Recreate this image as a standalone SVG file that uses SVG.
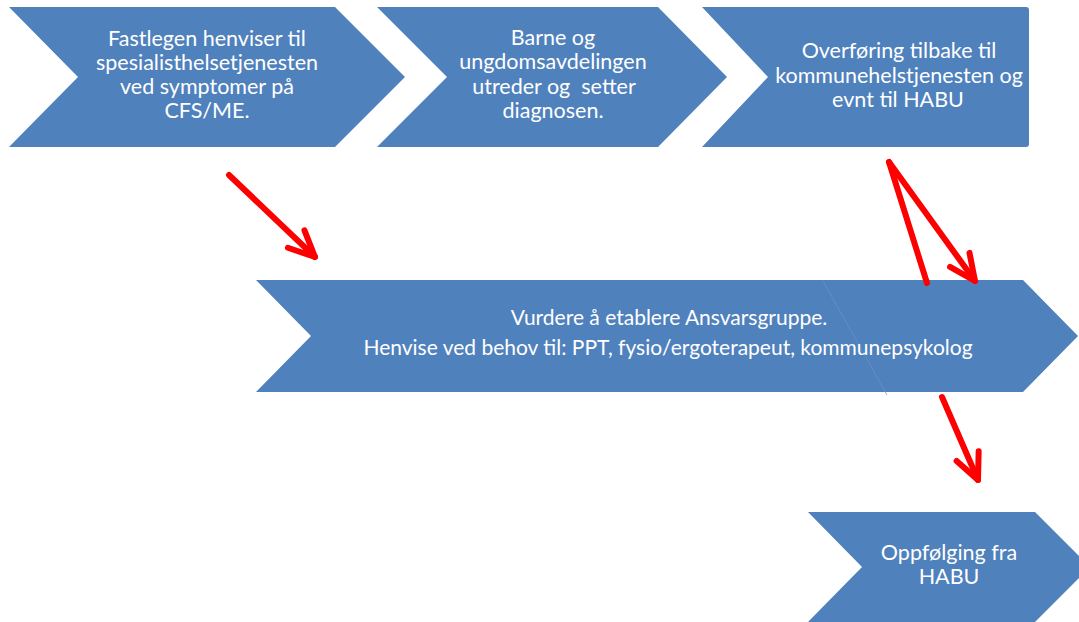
<svg xmlns="http://www.w3.org/2000/svg" width="1079" height="622" viewBox="0 0 1079 622">
<style>
.shape{fill:#4f81bd}
.t{font-family:Lato,"Liberation Sans",sans-serif;fill:#ffffff;text-anchor:middle}
.top{font-size:21.5px}
.mid{font-size:21px}
.arr{fill:none;stroke:#ff0000;stroke-width:6;stroke-linecap:round;stroke-linejoin:round}
</style>
<defs>
<marker id="ah" markerUnits="userSpaceOnUse" markerWidth="40" markerHeight="40" refX="0" refY="0" orient="auto" overflow="visible">
<path d="M -26,-12 L 0,0 L -26,12" fill="none" stroke="#ff0000" stroke-width="6" stroke-linecap="round" stroke-linejoin="round"/>
</marker>
</defs>
<rect width="1079" height="622" fill="#ffffff"/>
<g id="node1">
<polygon class="shape" points="9,7 335,7 405,77 335,147 9,147 78,77"/>
<text class="t top" x="207" y="46">Fastlegen henviser til</text>
<text class="t top" x="207" y="70">spesialisthelsetjenesten</text>
<text class="t top" x="207" y="94">ved symptomer på</text>
<text class="t top" x="207" y="118">CFS/ME.</text>
</g>
<g id="node2">
<polygon class="shape" points="377,7 658,7 727,77 658,147 377,147 447,77"/>
<text class="t top" x="553" y="45">Barne og</text>
<text class="t top" x="553" y="69">ungdomsavdelingen</text>
<text class="t top" x="554" y="94" xml:space="preserve">utreder og  setter</text>
<text class="t top" x="553" y="118">diagnosen.</text>
</g>
<g id="node3">
<path class="shape" d="M702,7 L1026,7 Q1029,7 1029,10 L1029,144 Q1029,147 1026,147 L702,147 L768,77 Z"/>
<text class="t top" x="899" y="58">Overføring tilbake til</text>
<text class="t top" x="899" y="83">kommunehelstjenesten og</text>
<text class="t top" x="898" y="107">evnt til HABU</text>
</g>
<g id="node4">
<polygon class="shape" points="256,280 1023,280 1078,336 1023,392 256,392 311,336"/>
<line x1="823" y1="281" x2="887" y2="395" stroke="#6a93c9" stroke-width="0.7"/>
<text class="t mid" x="669" y="325">Vurdere å etablere Ansvarsgruppe.</text>
<text class="t mid" x="668" y="355">Henvise ved behov til: PPT, fysio/ergoterapeut, kommunepsykolog</text>
</g>
<g id="node5">
<polygon class="shape" points="808,512 1035,512 1090,567 1035,622 808,622 862,567"/>
<text class="t top" x="949" y="560">Oppfølging fra</text>
<text class="t top" x="949" y="584">HABU</text>
</g>
<g id="connectors">
<line class="arr" x1="229" y1="175" x2="315" y2="257" marker-end="url(#ah)"/>
<line class="arr" x1="889" y1="162" x2="927" y2="283"/>
<line class="arr" x1="889" y1="162" x2="975" y2="281" marker-end="url(#ah)"/>
<line class="arr" x1="942" y1="397" x2="978" y2="480" marker-end="url(#ah)"/>
</g>
</svg>
